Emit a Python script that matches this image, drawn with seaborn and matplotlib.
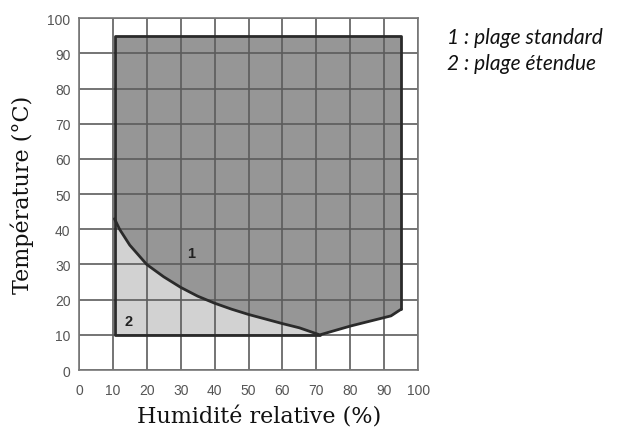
import matplotlib
matplotlib.use("Agg")
import matplotlib.pyplot as plt
import seaborn as sns
import pandas as pd

# Lower boundary of the standard operating range (humidity %, temperature °C)
curve_rh = [10.5, 12, 15, 20, 25, 30, 35, 40, 45, 50, 55, 60, 65, 71, 80, 92, 95]
curve_t = [43, 40, 35.5, 30, 26.5, 23.5, 21, 19, 17.3, 15.8, 14.5, 13.2, 12, 10,
           12.5, 15.4, 17.3]

# Outer limits of the ranges
rh_min, rh_max = 10.5, 95
t_min, t_max = 10, 95

zone_labels = ["1", "2"]
zone_label_rh = [33, 14.5]
zone_label_t = [33.4, 14]

legend_lines = ["1 : plage standard", "2 : plage étendue"]

sns.set_theme(style="white")
plt.rcParams["font.family"] = ["Liberation Sans", "DejaVu Sans"]

fig = plt.figure(figsize=(6.26, 4.35), dpi=100)
ax = fig.add_axes([0.126, 0.147, 0.542, 0.809])

curve = pd.DataFrame({"rh": curve_rh, "t": curve_t})

# Standard range: above the curve up to the top limit
ax.fill_between(curve["rh"], curve["t"], t_max, color="#969696", lw=0, zorder=1)
# Extended range: between the bottom limit and the curve
ext = curve[curve["rh"] <= 71]
ax.fill_between(ext["rh"], t_min, ext["t"], color="#d2d2d2", lw=0, zorder=1)

# Grid on top of the fills
for v in range(0, 101, 10):
    ax.axvline(v, color="#5c5c5c", lw=1.2, zorder=2)
    ax.axhline(v, color="#5c5c5c", lw=1.2, zorder=2)

# Boundary lines
edge = "#2b2b2b"
sns.lineplot(data=curve, x="rh", y="t", sort=False, estimator=None,
             color=edge, lw=2, ax=ax, zorder=3)
outline = pd.DataFrame({
    "rh": [71, rh_min, rh_min, rh_max, rh_max],
    "t": [t_min, t_min, t_max, t_max, curve_t[-1]],
})
sns.lineplot(data=outline, x="rh", y="t", sort=False, estimator=None,
             color=edge, lw=2, ax=ax, zorder=3)

for lab, x, y in zip(zone_labels, zone_label_rh, zone_label_t):
    ax.text(x, y, lab, fontsize=10.5, fontweight="bold", color="#222222",
            ha="center", va="center", zorder=4)

ax.set_xlim(0, 100)
ax.set_ylim(0, 100)
ax.set_xticks(range(0, 101, 10))
ax.set_yticks(range(0, 101, 10))
ax.tick_params(axis="both", labelsize=10, labelcolor="#555555", length=3,
               color="#777777", width=1)
ax.tick_params(axis="x", direction="out", pad=6)
ax.tick_params(axis="y", direction="out", pad=3)
for s in ax.spines.values():
    s.set_color("#777777")
    s.set_linewidth(1.2)

ax.set_xlabel("Humidité relative (%)", fontsize=16, family="DejaVu Serif",
              color="#111111")
ax.xaxis.set_label_coords(0.53, -0.102, transform=ax.transAxes)
ax.xaxis.label.set_va("top")
ax.set_ylabel("Température (°C)", fontsize=16, family="DejaVu Serif",
              color="#111111", labelpad=10)

for i, line in enumerate(legend_lines):
    fig.text(0.714, 0.912 - i * 0.058, line, fontsize=15, style="italic",
             family="Lato", color="#111111", va="center")

fig.savefig("out.png", dpi=100)
